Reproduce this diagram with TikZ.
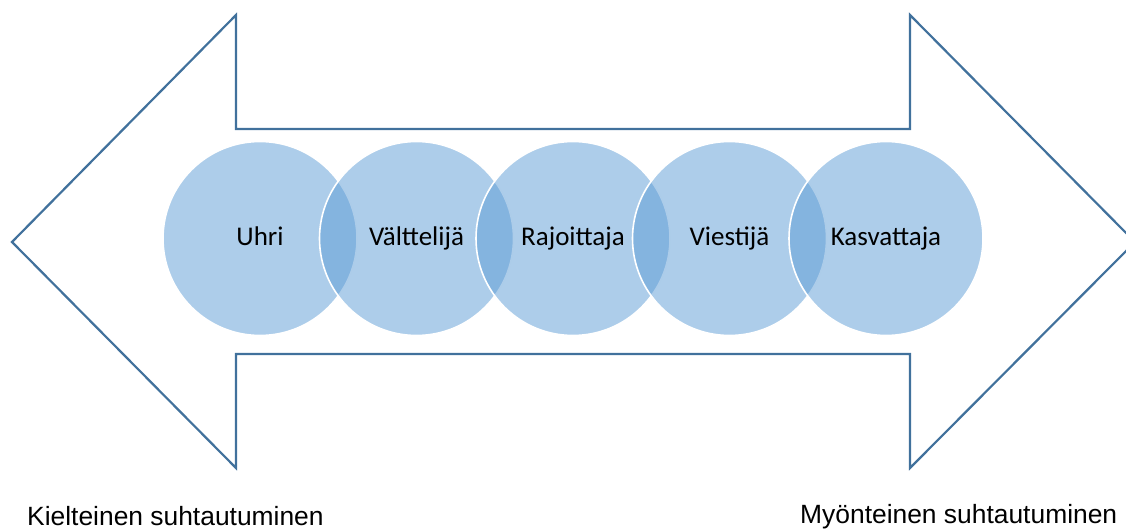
\documentclass[tikz,border=0pt]{standalone}
\usepackage{fontspec}
\setmainfont{Liberation Sans}
\newfontfamily\calib{Carlito}
\definecolor{arrowblue}{RGB}{65,113,156}
\definecolor{circblue}{RGB}{91,155,213}
\tikzset{
  outline/.style={draw=arrowblue, line width=2.2pt, line join=miter},
  bubble/.style={circle, minimum size=194pt, inner sep=0pt, fill=circblue, fill opacity=0.5, draw=white, draw opacity=1, line width=1.6pt},
  label/.style={anchor=base, inner sep=0pt, font=\calib\fontsize{27}{30}\selectfont},
  caption/.style={anchor=base west, inner sep=0pt, font=\fontsize{26.4}{30}\selectfont}
}
\begin{document}
\begin{tikzpicture}[x=1pt,y=-1pt]
\useasboundingbox (0,0) rectangle (1126,529);
\begin{scope}
\clip (0,0) rectangle (1126,529);
\draw[outline] (12,242) -- (236,15) -- (236,129) -- (910,129) -- (910,15) -- (1135,242)
  -- (910,468) -- (910,354) -- (236,354) -- (236,468) -- cycle;
\end{scope}
\node[bubble] (c1) at (260,238.5) {};
\node[bubble] (c2) at (416.5,238.5) {};
\node[bubble] (c3) at (573,238.5) {};
\node[bubble] (c4) at (729.5,238.5) {};
\node[bubble] (c5) at (886,238.5) {};
\foreach \n/\t in {c1/Uhri, c2/Välttelijä, c3/Rajoittaja, c4/Viestijä, c5/Kasvattaja}
  \node[label] (t\n) at ([yshift=-6.5pt]\n.center) {\t};
\node[caption] (neg) at (27,525) {Kielteinen suhtautuminen};
\node[caption] (pos) at (800,523) {Myönteinen suhtautuminen};
\end{tikzpicture}
\end{document}
